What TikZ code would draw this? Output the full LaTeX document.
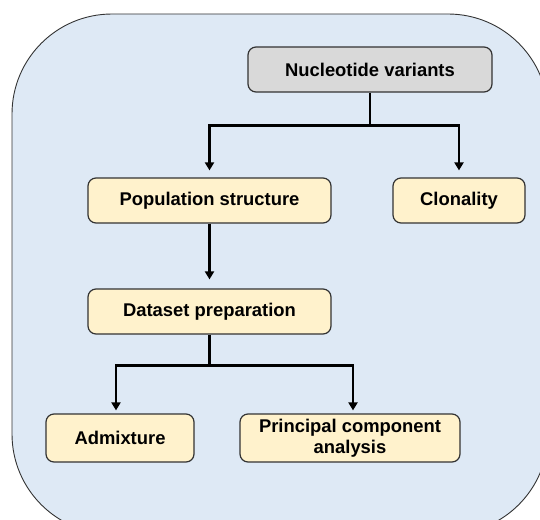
\documentclass[tikz,border=0pt]{standalone}
\usepackage{fontspec}
\setmainfont{Liberation Sans}
\usetikzlibrary{arrows.meta,positioning}
\definecolor{panelblue}{HTML}{DEE9F5}
\definecolor{stepyellow}{HTML}{FFF2CC}
\definecolor{sourcegray}{HTML}{D9D9D9}
\definecolor{edgegray}{HTML}{333333}
\tikzset{
  box/.style={draw=edgegray, line width=1.2pt, rounded corners=8pt, fill=stepyellow,
    font=\fontsize{18.4}{21}\selectfont\bfseries, align=center, inner sep=0pt},
  link/.style={line width=2.7pt, draw=black},
  flow/.style={link, -{Triangle[width=9pt,length=8pt]}},
}
\begin{document}
\begin{tikzpicture}[x=1pt,y=-1pt]
  \useasboundingbox (0,0) rectangle (540,519);
  \begin{scope}
    \clip (0,0) rectangle (540,519);
    \draw[fill=panelblue, draw=edgegray, line width=0.9pt, rounded corners=100pt]
      (12,14) rectangle (548,534);
  \end{scope}

  % source node
  \node[box, fill=sourcegray, minimum width=244pt, minimum height=45pt] (nv) at (370,69.5) {Nucleotide variants};
  % analysis branches
  \node[box, minimum width=243pt, minimum height=45pt] (ps) at (209.5,200.5) {Population structure};
  \node[box, minimum width=132pt, minimum height=45pt] (cl) at (459,200.5) {Clonality};
  \node[box, minimum width=243pt, minimum height=45pt] (dp) at (209.5,311.5) {Dataset preparation};
  \node[box, minimum width=148pt, minimum height=48pt] (ad) at (120,438) {Admixture};
  \node[box, minimum width=220pt, minimum height=48pt] (pca) at (350,438) {Principal component\\analysis};

  % splits
  \draw[link] (nv.south) -- ++(0,33) coordinate (s1);
  \draw[flow, shorten >=7pt] (s1) -| (ps.north);
  \draw[flow, shorten >=7pt] (s1) -| (cl.north);
  \draw[flow, shorten >=9pt] (ps.south) -- (dp.north);
  \draw[link] (dp.south) -- ++(0,31) coordinate (s2);
  \draw[flow, shorten >=3pt] (s2) -| ([xshift=-4pt]ad.north);
  \draw[flow, shorten >=3pt] (s2) -| ([xshift=3pt]pca.north);
\end{tikzpicture}
\end{document}
